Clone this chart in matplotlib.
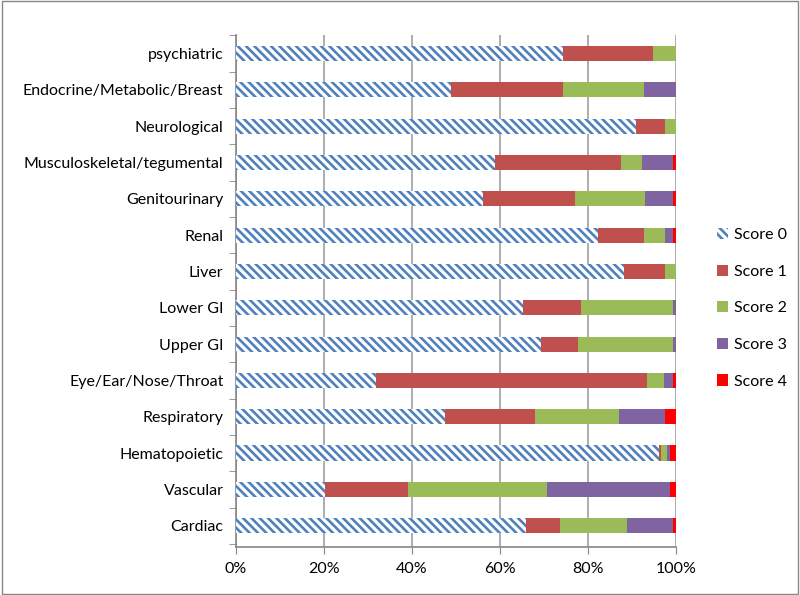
"""100% stacked bar chart of scores by organ system"""

import numpy as np
import matplotlib
matplotlib.use('Agg')
import matplotlib.pyplot as plt
from matplotlib.patches import Rectangle
from matplotlib.ticker import FuncFormatter

#%% data (percent of patients per score), listed bottom to top
categories = ['Cardiac', 'Vascular', 'Hematopoietic', 'Respiratory', 'Eye/Ear/Nose/Throat',
              'Upper GI', 'Lower GI', 'Liver', 'Renal', 'Genitourinary',
              'Musculoskeletal/tegumental', 'Neurological', 'Endocrine/Metabolic/Breast',
              'psychiatric']
score0 = [66.0, 20.3, 96.1, 47.6, 31.9, 69.3, 65.3, 88.2, 82.2, 56.2, 58.8, 91.0, 48.9, 74.4]
score1 = [7.7, 18.9, 0.6, 20.3, 61.6, 8.5, 13.2, 9.3, 10.5, 20.9, 28.7, 6.5, 25.5, 20.4]
score2 = [15.1, 31.4, 1.3, 19.1, 3.8, 21.5, 20.8, 2.5, 4.7, 15.8, 4.7, 2.5, 18.4, 5.2]
score3 = [10.5, 28.1, 0.7, 10.5, 2.0, 0.7, 0.7, 0.0, 1.9, 6.4, 7.1, 0.0, 7.2, 0.0]
score4 = [0.7, 1.3, 1.3, 2.5, 0.7, 0.0, 0.0, 0.0, 0.7, 0.7, 0.7, 0.0, 0.0, 0.0]

series_names = ['Score 0', 'Score 1', 'Score 2', 'Score 3', 'Score 4']
series = [score0, score1, score2, score3, score4]
colors = ['#4F81BD', '#C0504D', '#9BBB59', '#8064A2', '#FF0000']

#%% plot
plt.rcParams['font.family'] = ['Lato', 'DejaVu Sans']
plt.rcParams['hatch.linewidth'] = 1.9

fig = plt.figure(figsize=(8, 5.95), dpi=100)
ax = fig.add_axes([0.295, 0.0807, 0.55, 0.8605])

y = np.arange(len(categories))
data = np.array(series)
totals = data.sum(axis=0)
data = data / totals * 100
left = np.zeros(len(categories))
for i, name in enumerate(series_names):
    if i == 0:
        ax.barh(y, data[i], left=left, height=0.42, color='white', edgecolor=colors[0],
                hatch='\\\\\\\\', linewidth=0, label=name, zorder=3)
    else:
        ax.barh(y, data[i], left=left, height=0.42, color=colors[i], linewidth=0,
                label=name, zorder=3)
    left += data[i]

ax.set_xlim(0, 100)
ax.set_ylim(-0.584, len(categories) - 0.49)
ax.set_xticks(np.arange(0, 101, 20))
ax.xaxis.set_major_formatter(FuncFormatter(lambda v, p: '{:.0f}%'.format(v)))
ax.set_yticks(y)
ax.set_yticklabels(categories)
ax.set_yticks(np.arange(-0.5, len(categories), 1), minor=True)
ax.tick_params(axis='y', which='major', length=0, labelsize=11.5, pad=9)
ax.tick_params(axis='y', which='minor', length=5, color='#868686', direction='out')
ax.tick_params(axis='x', length=5, color='#868686', labelsize=11.5, pad=6)
ax.grid(axis='x', color='#A0A0A0', lw=1.2, zorder=0)
for s in ['top', 'right']:
    ax.spines[s].set_visible(False)
for s in ['left', 'bottom']:
    ax.spines[s].set_color('#868686')
    ax.spines[s].set_linewidth(1.2)

ax.legend(loc='center left', bbox_to_anchor=(1.06, 0.466), frameon=False, fontsize=11.5,
          handlelength=0.7, handleheight=0.7, labelspacing=1.4, handletextpad=0.4)

# outer chart border
fig.patches.append(Rectangle((0.002, 0.002), 0.996, 0.996, transform=fig.transFigure,
                             fill=False, edgecolor='#868686', lw=1))

plt.savefig('out.png', dpi=100)
